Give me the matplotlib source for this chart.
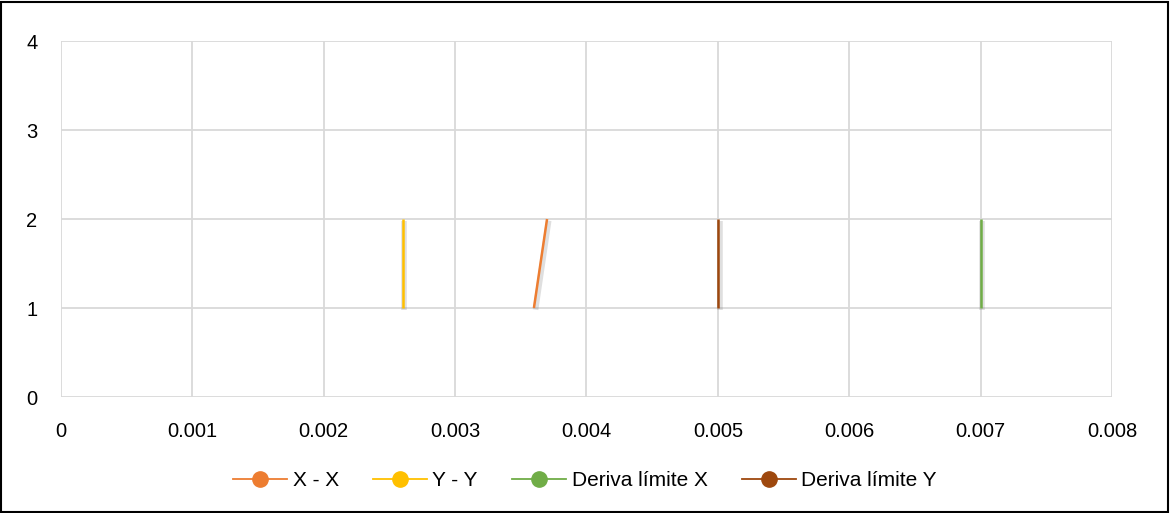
import matplotlib
matplotlib.use("Agg")
import matplotlib.pyplot as plt
from matplotlib.lines import Line2D
import matplotlib.patheffects as pe

plt.rcParams['font.family'] = ['Liberation Sans', 'DejaVu Sans']

series_names = ["X - X", "Y - Y", "Deriva límite X", "Deriva límite Y"]
xx_x = [0.0036, 0.0037]
yy_x = [0.0026, 0.0026]
dlx_x = [0.007, 0.007]
dly_x = [0.005, 0.005]
levels = [1, 2]
colors = ["#ED7D31", "#FFC000", "#70AD47", "#9E480E"]
xticks = [0, 0.001, 0.002, 0.003, 0.004, 0.005, 0.006, 0.007, 0.008]
xtick_labels = ["0", "0.001", "0.002", "0.003", "0.004", "0.005", "0.006", "0.007", "0.008"]
yticks = [0, 1, 2, 3, 4]

fig = plt.figure(figsize=(11.7, 5.13), dpi=100)
ax = fig.add_axes([0.0521, 0.2261, 0.8983, 0.6939])

shadow = [pe.SimpleLineShadow(offset=(1.2, -1.2), shadow_color='gray', alpha=0.25, linewidth=4), pe.Normal()]
for xs, c in zip([xx_x, yy_x, dlx_x, dly_x], colors):
    ax.plot(xs, levels, color=c, lw=1.8, path_effects=shadow, zorder=3, solid_capstyle='butt')

ax.set_xlim(0, 0.008)
ax.set_ylim(0, 4)
ax.set_xticks(xticks)
ax.set_xticklabels(xtick_labels)
ax.set_yticks(yticks)
ax.grid(True, color="#D9D9D9", lw=1.3, zorder=0)
ax.set_axisbelow(True)
for s in ax.spines.values():
    s.set_visible(False)
ax.tick_params(length=0, labelsize=14.5, colors="#000000")
ax.tick_params(axis='x', pad=18)
ax.tick_params(axis='y', pad=17)

handles = [Line2D([0], [0], color=c, lw=1.3, marker='o', markersize=11) for c in colors]
fig.legend(handles, series_names, loc='center', bbox_to_anchor=(0.5, 0.0624), ncol=4,
           frameon=False, fontsize=15, handlelength=2.6, columnspacing=1.65, handletextpad=0.25)

fig.patches.append(plt.Rectangle((0.001, 0.002), 0.997, 0.995, transform=fig.transFigure,
                                 fill=False, edgecolor='black', lw=1.5))

fig.savefig("out.png", dpi=100, facecolor='white')
